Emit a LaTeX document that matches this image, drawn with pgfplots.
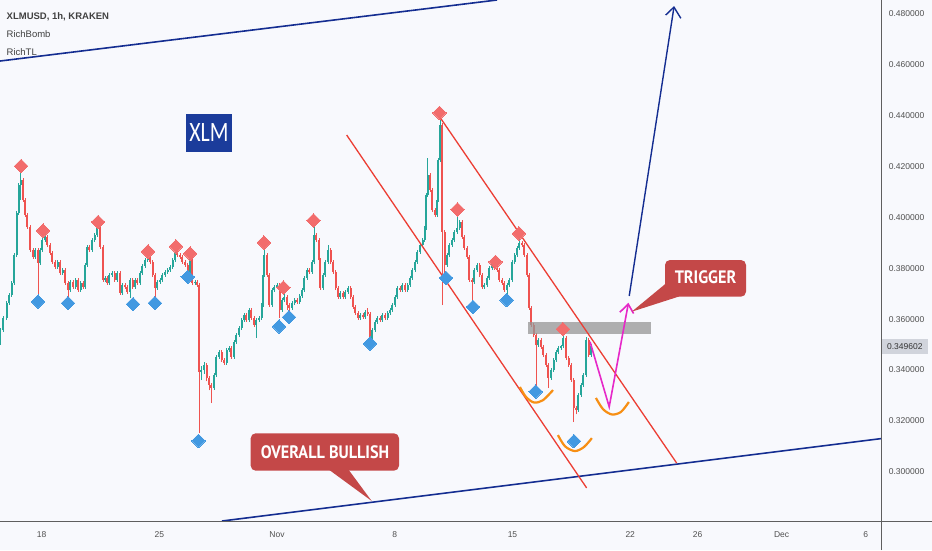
\documentclass[border=0pt]{standalone}
\usepackage{graphicx}
\usepackage{fontspec}
\setmainfont{Liberation Sans}
\newfontfamily\ptsans{PT Sans}
\newfontfamily\carlito{Carlito}
\usepackage{pgfplots}
\usepackage{pgfplotstable}
\pgfplotsset{compat=1.18}
\definecolor{bg}{RGB}{248,249,253}
\definecolor{upc}{RGB}{38,166,154}
\definecolor{dnc}{RGB}{239,83,80}
\definecolor{navy}{RGB}{20,45,145}
\definecolor{chred}{RGB}{236,62,52}
\definecolor{mag}{RGB}{230,40,200}
\definecolor{orng}{RGB}{247,143,20}
\definecolor{dred}{RGB}{242,108,108}
\definecolor{dblue}{RGB}{66,153,225}
\definecolor{callred}{RGB}{196,72,72}
\definecolor{xlmblue}{RGB}{27,60,155}
\definecolor{tickgray}{RGB}{80,80,80}
\definecolor{axgray}{RGB}{95,95,95}
\definecolor{hdr}{RGB}{65,65,65}
\definecolor{pricebox}{RGB}{209,212,220}
\definecolor{zone}{RGB}{150,150,150}

\pgfplotstableread{
d o h l c
15.53 353.0 356.4 350.0 355.7
15.71 355.7 361.1 355.0 360.4
15.93 360.4 367.0 359.7 366.3
16.07 366.3 370.2 365.6 369.5
16.23 369.5 374.9 368.8 374.2
16.36 374.2 385.9 373.5 385.2
16.52 385.2 402.4 384.5 401.7
16.63 401.7 413.4 401.0 412.7
16.75 412.7 418.5 407.0 414.7
16.90 414.7 415.4 406.1 406.8
17.02 406.8 407.5 400.2 400.9
17.14 400.9 401.6 395.5 396.2
17.31 396.2 396.9 386.5 387.2
17.49 387.2 387.9 383.7 384.4
17.64 384.4 387.9 383.7 387.2
17.79 387.2 387.9 367.5 382.1
17.91 382.1 387.9 381.4 387.2
18.03 387.2 391.8 386.5 391.1
18.21 391.1 395.0 390.4 392.3
18.35 392.3 393.0 388.4 389.1
18.50 389.1 389.8 385.3 386.0
18.65 386.0 386.7 381.8 382.5
18.80 382.5 383.2 379.8 380.5
18.95 380.5 383.2 379.8 382.5
19.10 382.5 383.2 377.4 378.1
19.25 378.1 380.0 377.4 379.3
19.39 379.3 380.0 373.5 374.2
19.57 374.2 374.9 368.7 371.4
19.72 371.4 375.3 370.7 374.6
19.87 374.6 375.3 371.9 372.6
20.02 372.6 376.1 371.9 375.4
20.17 375.4 376.1 370.7 371.4
20.32 371.4 374.9 370.7 374.2
20.46 374.2 374.9 371.9 372.6
20.58 372.6 382.0 371.9 381.3
20.70 381.3 389.1 380.6 388.4
20.85 388.4 389.1 386.5 387.2
21.00 387.2 391.8 386.5 391.1
21.15 391.1 393.8 390.4 393.1
21.30 393.1 397.4 392.4 396.2
21.48 396.2 396.9 387.7 388.4
21.65 388.4 389.1 374.7 375.4
21.77 375.4 376.9 374.7 376.2
21.89 376.2 376.9 373.5 374.2
22.04 374.2 378.0 373.5 377.3
22.19 377.3 378.8 376.6 378.1
22.34 378.1 378.8 374.7 375.4
22.49 375.4 378.8 374.7 378.1
22.66 378.1 378.8 369.6 370.3
22.81 370.3 374.1 369.6 373.4
22.96 373.4 374.1 371.9 372.6
23.11 372.6 373.3 370.0 370.7
23.26 370.7 376.1 368.3 375.4
23.41 375.4 376.1 371.9 372.6
23.56 372.6 376.1 371.9 375.4
23.70 375.4 376.1 373.5 374.2
23.85 374.2 378.8 373.5 378.1
24.00 378.1 381.6 377.4 380.9
24.15 380.9 383.9 380.2 383.2
24.30 383.2 385.2 382.5 384.0
24.45 384.0 384.7 381.8 382.5
24.60 382.5 383.2 376.6 377.3
24.74 377.3 378.0 368.7 372.2
24.89 372.2 375.3 371.5 374.6
25.04 374.6 376.1 373.9 375.4
25.19 375.4 378.0 374.7 377.3
25.34 377.3 379.2 376.6 378.5
25.49 378.5 380.0 377.8 379.3
25.64 379.3 381.2 378.6 380.5
25.79 380.5 383.9 379.8 383.2
25.93 383.2 388.8 382.5 386.4
26.08 386.4 387.1 384.5 385.2
26.23 385.2 385.9 383.7 384.4
26.38 384.4 385.1 381.8 382.5
26.53 382.5 383.2 380.6 381.3
26.68 381.3 382.0 377.3 378.5
26.83 378.5 387.2 377.8 384.4
26.97 384.4 385.1 373.5 374.2
27.12 374.2 375.3 373.5 374.6
27.27 374.6 375.3 372.7 373.4
27.36 373.4 374.1 315.2 339.2
27.51 339.2 341.5 336.0 340.0
27.66 340.0 343.0 338.5 341.9
27.81 341.9 342.6 335.5 336.8
27.95 336.8 337.5 332.0 334.1
28.10 334.1 334.8 327.0 332.9
28.25 332.9 338.7 332.2 338.0
28.40 338.0 345.8 337.3 345.1
28.55 345.1 347.8 344.4 347.1
28.70 347.1 347.8 343.2 343.9
28.85 343.9 344.6 342.0 342.7
29.00 342.7 348.5 342.0 347.8
29.14 347.8 349.3 347.1 348.6
29.29 348.6 349.3 344.4 345.1
29.44 345.1 351.7 344.4 351.0
29.59 351.0 354.5 350.3 353.8
29.74 353.8 357.2 353.1 356.5
29.89 356.5 360.3 355.8 359.6
30.04 359.6 362.3 358.9 361.6
30.18 361.6 362.3 358.9 359.6
30.33 359.6 364.3 358.9 363.6
30.48 363.6 364.3 359.7 360.4
30.63 360.4 361.1 357.0 357.7
30.78 357.7 360.3 352.6 359.6
30.93 359.6 361.1 358.9 360.4
31.08 360.4 366.2 359.7 365.5
31.17 365.5 378.0 364.8 377.3
31.25 377.3 388.4 376.6 385.2
31.40 385.2 385.9 376.6 377.3
31.55 377.3 378.0 364.8 365.5
31.70 365.5 372.1 364.8 371.4
31.85 371.4 373.3 370.7 372.6
32.00 372.6 374.1 371.9 373.4
32.15 373.4 374.1 360.4 363.6
32.30 363.6 368.2 362.9 367.5
32.44 367.5 369.9 366.8 368.7
32.59 368.7 369.4 363.6 365.5
32.74 365.5 366.2 362.4 364.4
32.89 364.4 367.0 363.7 366.3
33.04 366.3 368.2 365.6 367.5
33.19 367.5 368.2 366.0 366.7
33.34 366.7 369.8 366.0 369.1
33.48 369.1 372.1 368.4 371.4
33.63 371.4 376.9 370.7 376.2
33.78 376.2 380.0 375.5 379.3
33.93 379.3 380.0 377.8 378.5
34.08 378.5 383.2 377.8 382.5
34.20 382.5 397.0 381.8 393.1
34.34 393.1 393.8 390.4 391.1
34.49 391.1 391.8 382.5 383.2
34.58 383.2 383.9 371.5 372.2
34.73 372.2 378.0 371.5 377.3
34.88 377.3 383.2 376.6 382.5
35.03 382.5 389.1 381.8 387.2
35.18 387.2 387.9 381.8 382.5
35.33 382.5 383.2 377.8 378.5
35.48 378.5 379.2 371.5 372.2
35.62 372.2 372.9 368.0 368.7
35.77 368.7 371.0 368.0 370.3
35.92 370.3 371.0 368.0 368.7
36.07 368.7 371.4 368.0 370.7
36.22 370.7 372.9 370.0 372.2
36.37 372.2 372.9 368.0 368.7
36.52 368.7 369.4 364.1 364.8
36.66 364.8 365.5 361.7 362.4
36.81 362.4 363.1 359.7 360.4
36.96 360.4 362.3 359.7 361.6
37.11 361.6 362.3 360.1 360.8
37.26 360.8 363.5 360.1 362.8
37.38 362.8 364.4 361.3 362.0
37.53 362.0 362.7 351.0 352.6
37.67 352.6 356.4 351.9 355.7
37.82 355.7 359.6 355.0 358.9
37.97 358.9 361.1 358.2 360.4
38.12 360.4 361.1 358.9 359.6
38.27 359.6 362.3 358.9 361.6
38.42 361.6 362.3 359.7 360.4
38.57 360.4 363.1 359.7 362.4
38.71 362.4 364.3 361.7 363.6
38.86 363.6 366.2 362.9 365.5
39.01 365.5 369.4 364.8 368.7
39.16 368.7 372.9 368.0 372.2
39.31 372.2 372.9 370.7 371.4
39.46 371.4 374.1 370.7 373.4
39.61 373.4 374.1 370.7 371.4
39.76 371.4 374.1 370.7 373.4
39.90 373.4 376.9 372.7 376.2
40.05 376.2 380.0 375.5 379.3
40.20 379.3 383.2 378.6 382.5
40.35 382.5 387.1 381.8 386.4
40.50 386.4 389.8 385.7 389.1
40.65 389.1 391.8 388.4 391.1
40.77 391.1 396.5 390.4 395.8
40.86 395.8 409.5 395.1 408.8
40.95 408.8 423.4 408.1 416.7
41.09 416.7 417.4 410.1 410.8
41.24 410.8 411.5 402.2 402.9
41.39 402.9 403.6 400.2 400.9
41.51 400.9 407.5 400.2 406.8
41.60 406.8 423.3 406.1 422.6
41.69 422.6 439.1 421.9 436.3
41.81 436.3 437.0 365.5 394.3
41.96 394.3 395.0 376.0 381.3
42.10 381.3 385.9 380.6 385.2
42.25 385.2 389.8 384.5 389.1
42.40 389.1 391.8 388.4 391.1
42.55 391.1 395.0 390.4 394.3
42.70 394.3 400.5 393.6 395.8
42.85 395.8 398.9 395.1 398.2
43.00 398.2 398.9 391.6 392.3
43.14 392.3 393.0 387.3 388.0
43.29 388.0 388.7 383.7 384.4
43.44 384.4 385.1 374.7 375.4
43.59 375.4 376.1 367.5 374.6
43.74 374.6 380.0 373.9 379.3
43.89 379.3 382.0 378.6 381.3
44.04 381.3 382.0 376.6 377.3
44.18 377.3 378.0 371.9 372.6
44.33 372.6 374.1 371.9 373.4
44.48 373.4 376.9 372.7 376.2
44.63 376.2 380.8 375.5 380.1
44.78 380.1 384.0 379.4 382.5
44.93 382.5 383.2 379.4 380.1
45.08 380.1 380.8 378.6 379.3
45.22 379.3 380.0 374.7 375.4
45.37 375.4 376.1 373.5 374.2
45.52 374.2 374.9 370.7 371.4
45.67 371.4 374.1 370.0 373.4
45.82 373.4 376.1 372.7 375.4
45.97 375.4 383.2 374.7 382.5
46.12 382.5 385.9 381.8 385.2
46.26 385.2 388.7 384.5 388.0
46.41 388.0 391.9 387.3 389.9
46.56 389.9 390.6 388.4 389.1
46.71 389.1 389.8 384.5 385.2
46.86 385.2 385.9 376.6 377.3
46.98 377.3 378.0 363.7 364.4
47.10 364.4 365.1 357.0 357.7
47.25 357.7 358.4 353.1 353.8
47.40 353.8 354.5 333.3 349.8
47.54 349.8 352.5 349.1 351.8
47.69 351.8 352.5 348.3 349.0
47.84 349.0 349.7 345.2 345.9
47.99 345.9 346.6 341.3 342.0
48.14 342.0 342.7 332.9 336.8
48.29 336.8 340.7 336.1 340.0
48.44 340.0 344.6 339.3 343.9
48.58 343.9 347.8 343.2 347.1
48.73 347.1 349.3 346.4 348.6
48.88 348.6 350.0 347.9 349.3
49.03 349.3 353.8 348.6 352.6
49.18 352.6 353.3 344.0 344.7
49.33 344.7 345.4 341.3 342.0
49.48 342.0 342.7 335.3 336.0
49.63 336.0 336.7 319.5 325.0
49.77 325.0 325.7 322.5 324.3
49.92 324.3 330.8 323.6 330.1
50.07 330.1 334.8 329.4 334.1
50.22 334.1 338.7 333.4 338.0
50.37 338.0 353.0 337.3 351.8
50.52 351.8 352.5 345.2 345.9
50.67 345.9 350.3 345.2 349.6
}\candles

\begin{document}
\begin{tikzpicture}
\path[use as bounding box, fill=bg] (0pt,-29pt) rectangle (932pt,521pt);
\begin{axis}[
  at={(0pt,0pt)}, anchor=south west, scale only axis,
  width=881pt, height=521pt,
  xmin=15.53, xmax=67.91, ymin=280.6, ymax=485.5,
  axis line style={draw=none},
  major tick length=0pt,
  xtick={18,25,32,39,46,53,57,62,67},
  xticklabels={18,25,Nov,8,15,22,26,Dec,6},
  ytick={300,320,340,360,380,400,420,440,460,480},
  yticklabels={0.300000,0.320000,0.340000,0.360000,0.380000,0.400000,0.420000,0.440000,0.460000,0.480000},
  yticklabel pos=right,
  ticklabel style={font=\fontsize{8.5}{10}\selectfont, text=tickgray},
  xticklabel style={anchor=center, yshift=-14pt},
  yticklabel style={anchor=center, xshift=25.6pt},
]
% wicks
\addplot[upc, line width=0.6pt, mark=none,
  quiver={u=0, v=\thisrow{h}-\thisrow{l}},
  restrict expr to domain={\thisrow{c}-\thisrow{o}}{0:1000}]
  table[x=d, y=l] {\candles};
\addplot[dnc, line width=0.6pt, mark=none,
  quiver={u=0, v=\thisrow{h}-\thisrow{l}},
  restrict expr to domain={\thisrow{o}-\thisrow{c}}{0.0001:1000}]
  table[x=d, y=l] {\candles};
% bodies
\addplot[upc, line width=2.0pt, mark=none,
  quiver={u=0, v={max(\thisrow{c}-\thisrow{o},0.45)}},
  restrict expr to domain={\thisrow{c}-\thisrow{o}}{0:1000}]
  table[x=d, y=o] {\candles};
\addplot[dnc, line width=2.0pt, mark=none,
  quiver={u=0, v={max(\thisrow{o}-\thisrow{c},0.45)}},
  restrict expr to domain={\thisrow{o}-\thisrow{c}}{0.0001:1000}]
  table[x=d, y=c] {\candles};
% RichBomb diamonds
\addplot[only marks, color=dred, mark=square*, mark size=4.8pt,
  mark options={rotate=45, fill=dred, draw=dred, line width=0pt}] coordinates {
  (16.78,420.2) (18.09,394.8) (21.36,398.2) (24.33,386.6) (25.99,388.6)
  (26.83,385.8) (31.22,390.1) (32.38,372.4) (34.17,398.8) (41.66,441.1)
  (42.73,403.1) (44.99,382.5) (46.38,393.7) (49.00,356.1)};
\addplot[only marks, color=dblue, mark=square*, mark size=4.8pt,
  mark options={rotate=45, fill=dblue, draw=dblue, line width=0pt}] coordinates {
  (17.79,366.9) (19.57,366.3) (23.44,365.9) (24.74,366.3) (26.69,376.6)
  (27.33,312.1) (32.12,357.1) (32.71,360.8) (37.53,350.4) (42.04,376.2)
  (43.65,364.8) (45.65,367.5) (47.38,331.5) (49.65,312.0)};
% trigger zone
\addplot[draw=none, fill=zone, fill opacity=0.75] coordinates {
  (46.94,354.1) (54.21,354.1) (54.21,359.0) (46.94,359.0)} -- cycle;
% trend lines
\addplot[navy, line width=1.6pt, mark=none] coordinates {(15.53,461.5) (45.08,485.5)};
\addplot[navy, line width=1.6pt, mark=none] coordinates {(28.73,280.6) (67.91,313.0)};
% channel
\addplot[chred, line width=1.3pt, mark=none] coordinates {(36.14,432.4) (50.41,293.6)};
\addplot[chred, line width=1.3pt, mark=none] coordinates {(41.51,441.1) (55.76,303.4)};
% blue arrow
\addplot[navy, line width=1.4pt, mark=none] coordinates {(52.94,369.1) (55.60,482.7)};
\addplot[navy, line width=1.4pt, mark=none] coordinates {(55.11,479.6) (55.60,482.7) (56.01,478.3)};
% magenta path
\addplot[mag, line width=1.6pt, mark=none] coordinates {(50.61,351.1) (51.75,325.5) (52.88,365.9)};
\addplot[mag, line width=1.6pt, mark=none] coordinates {(52.38,362.7) (52.88,365.9) (53.20,362.2)};
% orange arcs
\addplot[orng, line width=2.2pt, mark=none, smooth] coordinates {
  (46.44,333.3) (46.80,329.4) (47.28,327.2) (47.81,328.1) (48.41,332.1)};
\addplot[orng, line width=2.2pt, mark=none, smooth] coordinates {
  (48.70,314.4) (49.12,310.0) (49.71,308.1) (50.25,309.7) (50.72,313.2)};
\addplot[orng, line width=2.2pt, mark=none, smooth] coordinates {
  (50.96,329.0) (51.38,324.6) (51.91,322.5) (52.45,323.5) (52.92,327.4)};
\end{axis}
% frame lines
\draw[axgray, line width=0.8pt] (881pt,-29pt) -- (881pt,521pt);
\draw[axgray, line width=0.8pt] (0pt,0pt) -- (932pt,0pt);
% last price
\fill[pricebox] (881.6pt,166.7pt) rectangle (928pt,182.5pt);
\node[font=\fontsize{8.5}{10}\selectfont, text=black!80, inner sep=0pt] at (904.8pt,174.6pt) {0.349602};
% header
\node[anchor=west, inner sep=0pt, text=hdr, font=\bfseries\fontsize{9.5}{11}\selectfont] at (6.5pt,504.3pt) {XLMUSD, 1h, KRAKEN};
\node[anchor=west, inner sep=0pt, text=hdr, font=\fontsize{9.5}{11}\selectfont] at (6.5pt,486.7pt) {RichBomb};
\node[anchor=west, inner sep=0pt, text=hdr, font=\fontsize{9.5}{11}\selectfont] at (6.5pt,469.3pt) {RichTL};
% XLM label
\fill[xlmblue] (185.7pt,369.3pt) rectangle (232.3pt,407pt);
\node[text=white, inner sep=0pt] at (209pt,388.2pt) {\scalebox{0.78}[1]{\carlito\fontsize{28}{28}\selectfont XLM}};
% TRIGGER callout
\fill[callred] (631.7pt,209.3pt) -- (666.5pt,238pt) -- (679pt,224.5pt) -- cycle;
\fill[callred, rounded corners=5pt] (665pt,224.3pt) rectangle (746pt,261pt);
\node[text=white, inner sep=0pt] at (705.5pt,243.5pt) {\scalebox{0.9}[1]{\ptsans\bfseries\fontsize{18}{18}\selectfont TRIGGER}};
% OVERALL BULLISH callout
\fill[callred] (328pt,52pt) -- (371.7pt,20pt) -- (348pt,52pt) -- cycle;
\fill[callred, rounded corners=5pt] (250.7pt,50.3pt) rectangle (399pt,87.7pt);
\node[text=white, inner sep=0pt] at (325pt,68.5pt) {\scalebox{0.9}[1]{\ptsans\bfseries\fontsize{18}{18}\selectfont OVERALL BULLISH}};
\end{tikzpicture}
\end{document}
